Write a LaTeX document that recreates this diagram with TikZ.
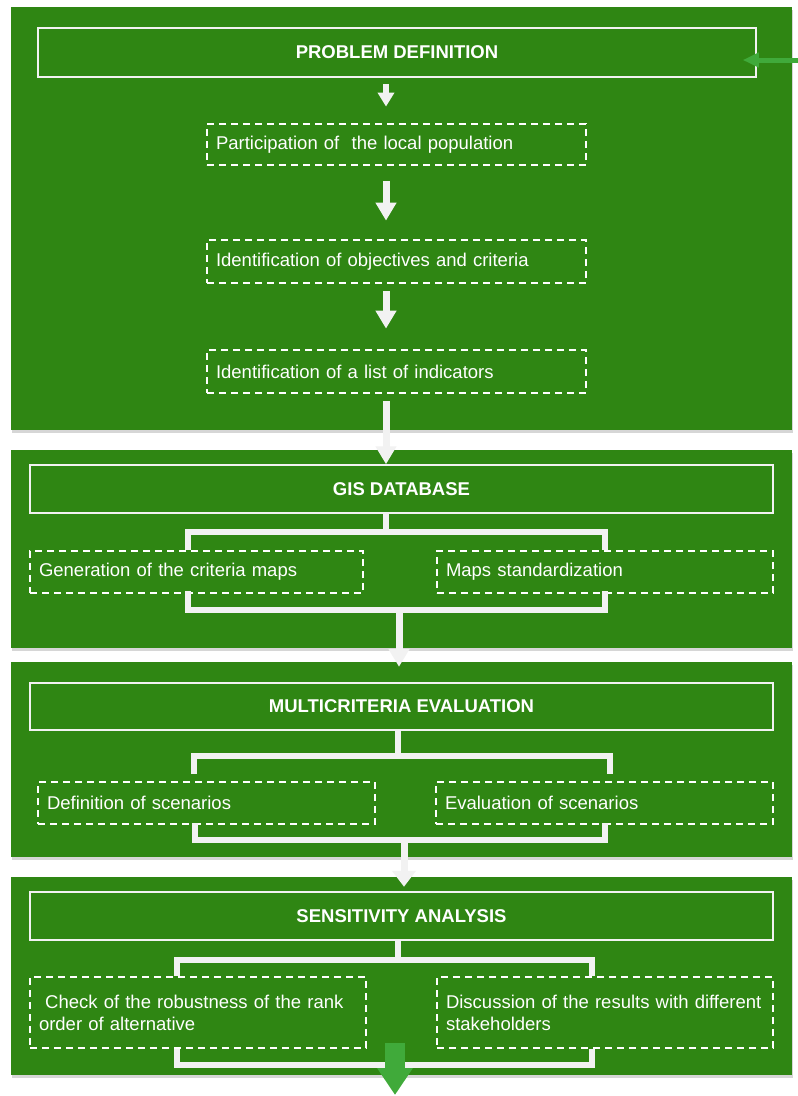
\documentclass[tikz,border=0pt]{standalone}
\usepackage{fontspec}
\setmainfont{Liberation Sans}
\usetikzlibrary{arrows.meta}
\definecolor{panelgreen}{RGB}{47,134,19}
\definecolor{arrgreen}{RGB}{64,170,58}
\definecolor{offwhite}{RGB}{242,242,242}
\tikzset{
  panel/.style={fill=panelgreen, draw=none, minimum width=781pt, inner sep=0pt},
  shadowbox/.style={fill=black, opacity=0.16, draw=none},
  titlebox/.style={draw=offwhite, line width=1.5pt, text=white,
    font=\bfseries\fontsize{18.5}{22}\selectfont, inner sep=0pt},
  dbox/.style={draw=white, line width=2.8pt, dash pattern=on 7pt off 5pt,
    text=white, font=\fontsize{18.5}{22}\selectfont, align=left,
    inner xsep=9pt, inner ysep=0pt},
  brk/.style={draw=offwhite, line width=6pt, line join=miter},
  arrS/.style={draw=offwhite, line width=6pt, -{Triangle[width=16pt,length=14pt]}},
  arrM/.style={draw=offwhite, line width=7pt, -{Triangle[width=20pt,length=18pt]}},
  arrG/.style={draw=arrgreen, line width=20pt, -{Triangle[width=34pt,length=27pt]}},
  arrF/.style={draw=arrgreen, line width=5pt, -{Triangle[width=14pt,length=16pt]}}
}
\begin{document}
\begin{tikzpicture}[x=1pt,y=-1pt]
\useasboundingbox (0,0) rectangle (798,1096);
\fill[white] (0,0) rectangle (798,1096);

% shadows
\fill[shadowbox] (12,10) rectangle (793,433);
\fill[shadowbox] (12,453) rectangle (793,651);
\fill[shadowbox] (12,665) rectangle (793,860);
\fill[shadowbox] (12,880) rectangle (793,1078);

% panels
\node[panel, minimum height=423pt] (p1) at (401.5,218.5) {};
\node[panel, minimum height=198pt] (p2) at (401.5,549) {};
\node[panel, minimum height=195pt] (p3) at (401.5,759.5) {};
\node[panel, minimum height=198pt] (p4) at (401.5,976) {};

% ---- panel 1
\node[titlebox, minimum width=718pt, minimum height=49pt] (pd) at (397,52.5) {PROBLEM DEFINITION};
\node[dbox, minimum width=379pt, text width=361pt, minimum height=41pt] (part) at (396.5,144.5) {Participation of\ \ the local population};
\node[dbox, minimum width=379pt, text width=361pt, minimum height=43pt] (obj) at (396.5,261.5) {Identification of objectives and criteria};
\node[dbox, minimum width=379pt, text width=361pt, minimum height=43pt] (ind) at (396.5,371.5) {Identification of a list of indicators};

\coordinate (ax) at (386,0);
\draw[arrS, shorten <=6pt, shorten >=16pt] (ax |- pd.south) -- (ax |- part.north);
\draw[arrM, shorten <=15pt, shorten >=18pt] (ax |- part.south) -- (ax |- obj.north);
\draw[arrM, shorten <=7pt, shorten >=20pt] (ax |- obj.south) -- (ax |- ind.north);

% feedback arrow
\coordinate (fb) at (798,60);
\draw[arrF] (fb) -- ([xshift=-14pt]pd.east |- fb);

% ---- panel 2
\node[titlebox, minimum width=743pt, minimum height=48pt] (gis) at (401.5,489) {GIS DATABASE};
\draw[arrM, shorten <=7pt] (ax |- ind.south) -- (ax |- gis.north);
\node[dbox, minimum width=333pt, text width=315pt, minimum height=42pt] (gen) at (196.5,572) {Generation of the criteria maps};
\node[dbox, minimum width=336pt, text width=318pt, minimum height=42pt] (maps) at (605,572) {Maps standardization};

\coordinate (g1) at (386,532);
\coordinate (gL) at (188,532);
\coordinate (gR) at (605,532);
\draw[brk] (g1 |- gis.south) -- (g1);
\draw[brk] (gL |- gen.north) -- (gL) -- (gR) -- (gR |- maps.north);
\coordinate (gL2) at (188,610);
\coordinate (gR2) at (605,610);
\draw[brk, shorten <=-3pt, shorten >=-3pt] (gL2 |- gen.south) -- (gL2) -- (gR2) -- (gR2 |- maps.south);
\coordinate (ga) at (399,610);
\draw[arrM, shorten >=-5pt] (ga) -- (ga |- p3.north);

% ---- panel 3
\node[titlebox, minimum width=743pt, minimum height=47pt] (mce) at (401.5,706.5) {MULTICRITERIA EVALUATION};
\node[dbox, minimum width=337pt, text width=319pt, minimum height=42pt] (def) at (206.5,803) {Definition of scenarios};
\node[dbox, minimum width=337pt, text width=319pt, minimum height=42pt] (evl) at (604.5,803) {Evaluation of scenarios};

\coordinate (m1) at (398,756);
\coordinate (mL) at (194,756);
\coordinate (mR) at (610,756);
\draw[brk] (m1 |- mce.south) -- (m1);
\draw[brk, shorten <=7pt, shorten >=7pt] (mL |- def.north) -- (mL) -- (mR) -- (mR |- evl.north);
\coordinate (mL2) at (195,840);
\coordinate (mR2) at (605,840);
\draw[brk, shorten <=-2pt, shorten >=-2pt] (mL2 |- def.south) -- (mL2) -- (mR2) -- (mR2 |- evl.south);
\coordinate (ma) at (404,840);
\draw[arrM, -{Triangle[width=23pt,length=16pt]}, shorten >=-10pt] (ma) -- (ma |- p4.north);

% ---- panel 4
\node[titlebox, minimum width=743pt, minimum height=48pt] (sens) at (401.5,916) {SENSITIVITY ANALYSIS};
\node[dbox, minimum width=336pt, text width=318pt, minimum height=71pt] (chk) at (198,1012.5) {\ Check of the robustness of the rank\\order of alternative};
\node[dbox, minimum width=336pt, text width=318pt, minimum height=71pt] (dis) at (605,1012.5) {Discussion of the results with different\\stakeholders};

\coordinate (s1) at (398,960);
\coordinate (sL) at (177,960);
\coordinate (sR) at (592,960);
\draw[brk] (s1 |- sens.south) -- (s1);
\draw[brk] (sL |- chk.north) -- (sL) -- (sR) -- (sR |- dis.north);
\coordinate (sL2) at (177,1065);
\coordinate (sR2) at (592,1065);
\draw[brk] (sL2 |- chk.south) -- (sL2) -- (sR2) -- (sR2 |- dis.south);
\coordinate (sa) at (395,1043);
\coordinate (send) at (395,1095);
\draw[arrG] (sa) -- (send);
\end{tikzpicture}
\end{document}
